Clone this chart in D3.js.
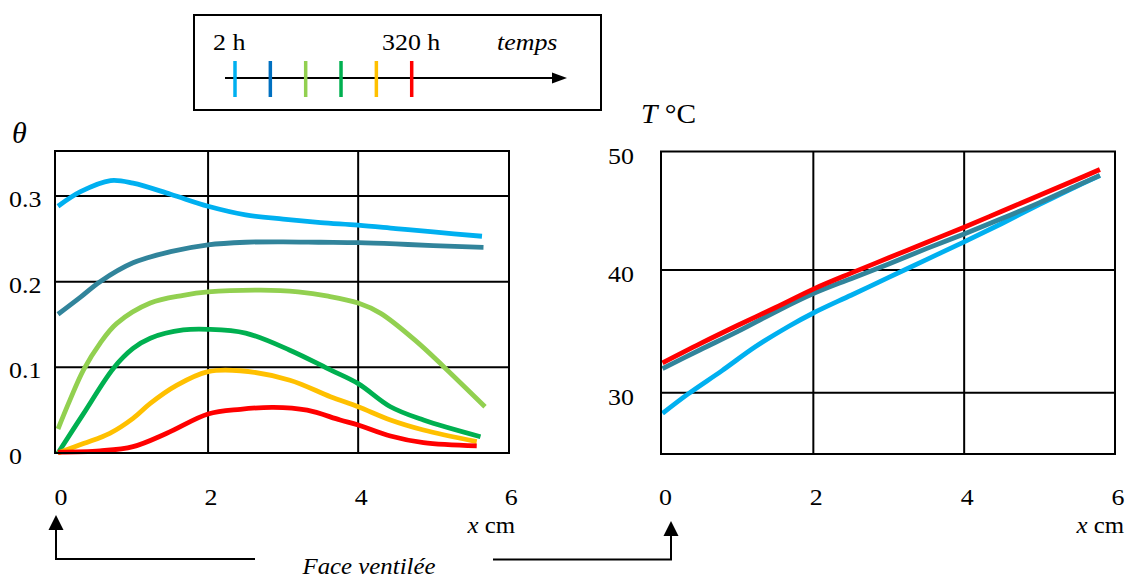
<!DOCTYPE html>
<html>
<head>
<meta charset="utf-8">
<script src="https://cdn.jsdelivr.net/npm/d3@7"></script>
<style>
  html, body { margin: 0; padding: 0; background: #fff; }
  svg { display: block; }
  text { font-family: "Liberation Serif", "Times New Roman", serif; fill: #000; }
</style>
</head>
<body>
<svg id="chart" width="1126" height="579"></svg>
<script>
// ---------- DATA ----------
const seriesNames = ["2 h", "t2", "t3", "t4", "t5", "320 h"];
const legendColors = ["#00B0F0", "#0070C0", "#92D050", "#00B050", "#FFC000", "#FF0000"];
const curveColors  = ["#00B0F0", "#31849B", "#92D050", "#00B050", "#FFC000", "#FF0000"];
const legendLabels = [{ at: "2 h", text: "2 h" }, { at: "320 h", text: "320 h" }];
const legendAxisTitle = "temps";

// Left chart: water content theta vs x (cm)
const thetaTicks = [0, 0.1, 0.2, 0.3];
const thetaTickLabels = ["0", "0.1", "0.2", "0.3"];
const xTicks = [0, 2, 4, 6];

const theta2h = [[0,0.288],[0.3,0.305],[0.7,0.318],[1.0,0.315],[1.5,0.302],[2,0.288],[2.5,0.278],[3,0.273],[3.5,0.269],[4,0.266],[4.5,0.262],[5,0.258],[5.65,0.253]];
const thetaT2  = [[0,0.162],[0.3,0.182],[0.56,0.2],[1,0.222],[1.5,0.235],[2,0.243],[2.5,0.246],[3,0.2465],[3.5,0.246],[4,0.2455],[4.5,0.244],[5,0.242],[5.67,0.240]];
const thetaT3  = [[0,0.028],[0.16,0.062],[0.34,0.097],[0.56,0.128],[0.78,0.151],[1.23,0.175],[1.67,0.184],[2,0.188],[2.7,0.19],[3.2,0.188],[3.6,0.183],[4,0.175],[4.3,0.163],[4.78,0.13],[5.14,0.1007],[5.69,0.054]];
const thetaT4  = [[0,0],[0.34,0.046],[0.74,0.099],[1.0,0.122],[1.23,0.134],[1.67,0.1436],[2,0.1444],[2.5,0.14],[3.09,0.12],[3.63,0.097],[4,0.081],[4.43,0.054],[4.87,0.0385],[5.63,0.019]];
const thetaT5  = [[0,0],[0.34,0.011],[0.69,0.023],[1.0,0.0405],[1.23,0.058],[1.58,0.079],[2,0.095],[2.43,0.096],[3.09,0.085],[3.63,0.0657],[4,0.054],[4.43,0.0385],[4.87,0.0268],[5.58,0.0132]];
const theta320 = [[0,0.001],[0.56,0.0025],[1.0,0.0074],[1.45,0.023],[2,0.0455],[2.43,0.051],[2.87,0.0533],[3.32,0.05],[3.76,0.0385],[4,0.0327],[4.43,0.0198],[4.87,0.012],[5.58,0.0082]];
const thetaSeries = [theta2h, thetaT2, thetaT3, thetaT4, thetaT5, theta320];

// Right chart: temperature vs x (cm)
const tempTicks = [30, 40, 50];
const temp2h  = [[0,28.31],[0.34,29.9],[0.79,31.8],[1.23,33.74],[1.67,35.4],[2,36.5],[2.5,37.95],[3,39.4],[3.5,40.85],[4,42.3],[4.5,43.8],[5,45.35],[5.5,46.85],[5.8,47.7]];
const tempT2  = [[0,31.97],[0.5,33.5],[1,35.0],[1.5,36.6],[2,38.08],[2.5,39.3],[3,40.5],[3.5,41.75],[4,42.95],[4.5,44.2],[5,45.5],[5.5,46.9],[5.8,47.72]];
const temp320 = [[0,32.43],[0.5,34.0],[1,35.5],[1.5,36.95],[2,38.45],[2.5,39.75],[3,41.0],[3.5,42.25],[4,43.5],[4.5,44.8],[5,46.1],[5.5,47.4],[5.8,48.2]];
const tempSeries = [{ idx: 0, data: temp2h }, { idx: 1, data: tempT2 }, { idx: 5, data: temp320 }];

const xUnitLabel = "cm";
const faceLabel = "Face ventilée";

// ---------- DRAW ----------
const svg = d3.select("#chart");
const FS = 24;

function addText(g, x, y, str, opts = {}) {
  const t = g.append("text")
    .attr("transform", `translate(${x},${y}) scale(${opts.sx || 1.08},1)`)
    .attr("font-size", opts.size || FS)
    .attr("text-anchor", opts.anchor || "start");
  if (opts.italic) t.attr("font-style", "italic");
  t.text(str);
  return t;
}

function drawPanel(cfg) {
  const g = svg.append("g");
  const x = d3.scaleLinear().domain(cfg.xDomain).range(cfg.xRange);
  const y = d3.scaleLinear().domain(cfg.yDomain).range(cfg.yRange);
  const [x0, x1] = cfg.xRange;
  const [y0, y1] = cfg.yRange; // y0 bottom, y1 top

  // grid
  const gridX = xTicks.filter(v => v > 0 && v < 6);
  g.selectAll(".gx").data(gridX).join("line")
    .attr("x1", d => x(d)).attr("x2", d => x(d))
    .attr("y1", y1).attr("y2", y0)
    .attr("stroke", "#000").attr("stroke-width", 2);
  const gridY = cfg.yTicks.filter(v => y(v) > y1 + 3 && y(v) < y0 - 3);
  g.selectAll(".gy").data(gridY).join("line")
    .attr("x1", x0).attr("x2", x1)
    .attr("y1", d => y(d)).attr("y2", d => y(d))
    .attr("stroke", "#000").attr("stroke-width", 2);

  // curves
  const line = d3.line().x(d => x(d[0])).y(d => y(d[1])).curve(d3.curveCatmullRom.alpha(0.5));
  cfg.series.forEach(s => {
    g.append("path").attr("d", line(s.data))
      .attr("fill", "none").attr("stroke", curveColors[s.idx])
      .attr("stroke-width", 4.8).attr("stroke-linecap", "butt").attr("stroke-linejoin", "round");
  });

  // frame
  g.append("rect").attr("x", x0).attr("y", y1).attr("width", x1 - x0).attr("height", y0 - y1)
    .attr("fill", "none").attr("stroke", "#000").attr("stroke-width", 2);

  // y tick labels
  cfg.yTicks.forEach((v, i) => {
    const yy = Math.min(Math.max(y(v), y1), y0);
    addText(g, cfg.yLabelX, yy + cfg.yLabelDy, cfg.yTickLabels[i], { anchor: cfg.yAnchor });
  });
  // x tick labels
  xTicks.forEach(v => addText(g, x(v) + 3, 505, String(v), { anchor: "middle" }));
  // x unit label
  const xl = g.append("text")
    .attr("transform", `translate(${cfg.xUnitX},533) scale(1.08,1)`)
    .attr("font-size", 23).attr("text-anchor", "end");
  xl.append("tspan").attr("font-style", "italic").text("x");
  xl.append("tspan").text(" " + xUnitLabel);
  return { x, y, g };
}

// Left panel
drawPanel({
  xDomain: [-0.04, 6.01], xRange: [55, 509],
  yDomain: [0, 0.3525], yRange: [453, 151],
  yTicks: thetaTicks, yTickLabels: thetaTickLabels,
  yLabelX: 9, yLabelDy: 11, yAnchor: "start",
  series: thetaSeries.map((d, i) => ({ idx: i, data: d })),
  xUnitX: 515
});
addText(svg, 12, 143, "θ", { italic: true, size: 30, sx: 1.0 });

// Right panel
drawPanel({
  xDomain: [-0.02, 6.0], xRange: [661, 1115],
  yDomain: [25, 49.67], yRange: [454, 151.5],
  yTicks: tempTicks, yTickLabels: tempTicks.map(String),
  yLabelX: 634, yLabelDy: 12, yAnchor: "end",
  series: tempSeries,
  xUnitX: 1124
});
{
  const t = svg.append("text").attr("transform", "translate(641,123) scale(1.05,1)").attr("font-size", 28);
  t.append("tspan").attr("font-style", "italic").text("T");
  t.append("tspan").text(" °C");
}

// Legend
{
  const lg = svg.append("g");
  lg.append("rect").attr("x", 194).attr("y", 15).attr("width", 407).attr("height", 95)
    .attr("fill", "none").attr("stroke", "#000").attr("stroke-width", 2);
  lg.append("line").attr("x1", 225).attr("x2", 553).attr("y1", 78).attr("y2", 78)
    .attr("stroke", "#000").attr("stroke-width", 2);
  lg.append("path").attr("d", "M552,72.5 L567,78 L552,83.5 Z").attr("fill", "#000");
  const tx = d3.scalePoint().domain(seriesNames).range([235, 411.7]);
  lg.selectAll(".tk").data(seriesNames).join("line")
    .attr("x1", d => tx(d)).attr("x2", d => tx(d))
    .attr("y1", 61).attr("y2", 97)
    .attr("stroke", (d, i) => legendColors[i]).attr("stroke-width", 3.5);
  addText(lg, 213, 50, legendLabels[0].text, { size: 24 });
  addText(lg, 382, 50, legendLabels[1].text, { size: 24 });
  addText(lg, 497, 50, legendAxisTitle, { italic: true, size: 24 });
}

// Bottom annotation arrows
{
  const ag = svg.append("g");
  ag.append("path").attr("d", "M255,559 L56,559 L56,529").attr("fill", "none")
    .attr("stroke", "#000").attr("stroke-width", 2);
  ag.append("path").attr("d", "M48.5,530 L56,515 L63.5,530 Z").attr("fill", "#000");
  ag.append("path").attr("d", "M493,559.5 L671,559.5 L671,535").attr("fill", "none")
    .attr("stroke", "#000").attr("stroke-width", 2);
  ag.append("path").attr("d", "M663.5,536 L671,521 L678.5,536 Z").attr("fill", "#000");
  addText(ag, 369, 574, faceLabel, { italic: true, anchor: "middle", size: 23 });
}
</script>
</body>
</html>
